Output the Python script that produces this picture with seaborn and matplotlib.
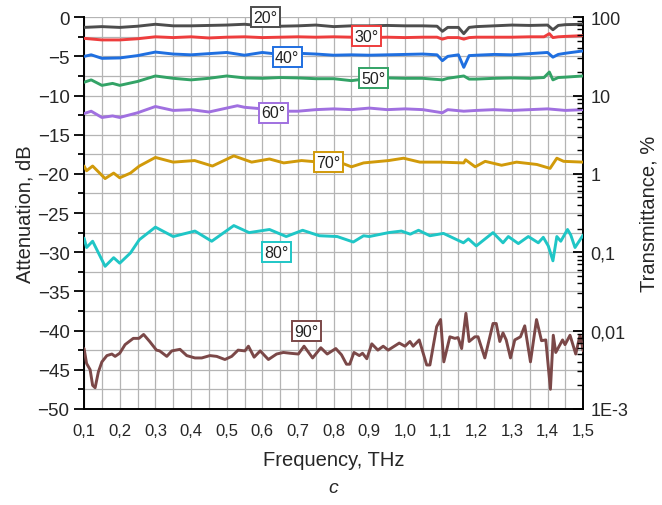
import pandas as pd
import numpy as np
import matplotlib
matplotlib.use('Agg')
import matplotlib.pyplot as plt
import seaborn as sns
from matplotlib.ticker import MultipleLocator, FixedLocator, FixedFormatter, LogLocator, NullFormatter

# frequency (THz) / attenuation (dB), one pair of lists per angle
f20 = [0.10, 0.15, 0.20, 0.25, 0.30, 0.35, 0.40, 0.45, 0.50, 0.55, 0.60, 0.65, 0.70, 0.75, 0.80, 0.85, 0.90, 0.95,
       1.00, 1.05, 1.09, 1.105, 1.12, 1.15, 1.165, 1.18, 1.20, 1.25, 1.30, 1.35, 1.40, 1.415, 1.43, 1.45, 1.50]
a20 = [-1.3, -1.2, -1.3, -1.15, -0.9, -1.1, -1.1, -1.05, -1.0, -0.9, -1.1, -1.15, -1.1, -1.0, -1.2, -1.1, -1.1, -1.05,
       -1.1, -1.1, -1.15, -1.8, -1.3, -1.3, -2.1, -1.3, -1.2, -1.1, -1.0, -1.05, -1.0, -1.6, -1.05, -0.95, -0.9]

f30 = [0.10, 0.15, 0.20, 0.25, 0.30, 0.35, 0.40, 0.45, 0.50, 0.55, 0.60, 0.65, 0.70, 0.75, 0.80, 0.85, 0.90, 0.95,
       1.00, 1.05, 1.09, 1.105, 1.12, 1.15, 1.165, 1.18, 1.20, 1.25, 1.30, 1.35, 1.39, 1.405, 1.415, 1.43, 1.45, 1.50]
a30 = [-2.7, -2.9, -2.9, -2.75, -2.5, -2.6, -2.5, -2.65, -2.55, -2.5, -2.6, -2.55, -2.5, -2.55, -2.5, -2.55, -2.6, -2.55,
       -2.6, -2.55, -2.55, -2.8, -2.6, -2.6, -2.8, -2.6, -2.55, -2.55, -2.55, -2.5, -2.5, -2.1, -2.6, -2.5, -2.45, -2.35]

f40 = [0.10, 0.12, 0.15, 0.20, 0.25, 0.30, 0.35, 0.40, 0.45, 0.50, 0.55, 0.60, 0.65, 0.70, 0.75, 0.80, 0.85, 0.90,
       0.95, 1.00, 1.05, 1.09, 1.105, 1.12, 1.15, 1.165, 1.18, 1.20, 1.25, 1.30, 1.35, 1.40, 1.415, 1.43, 1.45, 1.50]
a40 = [-5.0, -4.8, -5.25, -5.2, -4.9, -4.45, -4.7, -4.8, -4.65, -4.5, -4.85, -4.5, -4.75, -4.6, -4.7, -4.85, -4.8, -4.85,
       -4.8, -4.75, -4.7, -4.8, -5.55, -5.0, -4.8, -6.4, -4.9, -4.85, -4.75, -4.8, -4.65, -4.5, -5.1, -4.75, -4.6, -4.3]

f50 = [0.10, 0.12, 0.15, 0.18, 0.20, 0.25, 0.30, 0.35, 0.40, 0.45, 0.50, 0.55, 0.60, 0.65, 0.70, 0.75, 0.80, 0.85,
       0.90, 0.95, 1.00, 1.05, 1.105, 1.12, 1.165, 1.18, 1.20, 1.25, 1.30, 1.35, 1.39, 1.405, 1.415, 1.43, 1.45, 1.50]
a50 = [-8.3, -8.0, -8.7, -8.45, -8.7, -8.2, -7.5, -7.8, -8.0, -7.8, -7.5, -7.75, -7.8, -7.7, -7.75, -7.85, -7.85, -8.1,
       -7.8, -7.75, -7.8, -7.8, -8.0, -7.8, -7.5, -7.9, -7.9, -7.8, -7.75, -7.8, -7.7, -7.0, -8.0, -7.7, -7.65, -7.5]

f60 = [0.10, 0.12, 0.15, 0.18, 0.20, 0.25, 0.30, 0.35, 0.40, 0.45, 0.50, 0.53, 0.55, 0.60, 0.65, 0.70, 0.75, 0.80,
       0.85, 0.90, 0.95, 1.00, 1.05, 1.105, 1.12, 1.165, 1.20, 1.25, 1.30, 1.35, 1.40, 1.45, 1.50]
a60 = [-12.3, -12.0, -12.8, -12.6, -12.8, -12.2, -11.4, -11.9, -11.8, -12.1, -11.6, -11.3, -11.5, -11.7, -12.0, -12.0,
       -11.8, -11.7, -11.8, -11.6, -11.8, -11.7, -11.8, -12.2, -11.8, -12.0, -11.9, -11.8, -11.9, -11.8, -11.7, -11.9, -11.8]

f70 = [0.10, 0.107, 0.124, 0.159, 0.183, 0.20, 0.23, 0.255, 0.30, 0.35, 0.41, 0.46, 0.52, 0.57, 0.62, 0.66, 0.71, 0.76,
       0.81, 0.85, 0.884, 0.954, 0.996, 1.042, 1.099, 1.165, 1.17, 1.197, 1.225, 1.271, 1.313, 1.37, 1.407, 1.426, 1.445, 1.50]
a70 = [-19.0, -19.6, -19.0, -20.6, -19.9, -20.5, -19.9, -19.0, -17.9, -18.5, -18.3, -19.0, -17.7, -18.5, -18.1, -18.6,
       -18.3, -18.5, -18.4, -19.1, -18.6, -18.3, -18.0, -18.5, -18.5, -18.6, -18.2, -19.1, -18.4, -18.9, -18.5, -18.8,
       -19.3, -18.0, -18.4, -18.5]

f80 = [0.10, 0.107, 0.124, 0.159, 0.183, 0.20, 0.23, 0.255, 0.30, 0.35, 0.411, 0.458, 0.52, 0.563, 0.62, 0.667, 0.713,
       0.76, 0.81, 0.855, 0.884, 0.90, 0.954, 0.99, 1.015, 1.038, 1.07, 1.108, 1.164, 1.178, 1.20, 1.247, 1.275, 1.29,
       1.318, 1.346, 1.374, 1.388, 1.402, 1.415, 1.426, 1.437, 1.456, 1.465, 1.477, 1.50]
a80 = [-28.2, -29.4, -28.6, -31.8, -30.7, -31.4, -30.1, -28.4, -26.8, -28.0, -27.3, -28.6, -26.6, -27.5, -27.1, -28.0,
       -27.2, -27.9, -28.0, -28.7, -27.9, -28.0, -27.5, -27.3, -27.7, -27.2, -27.9, -27.6, -28.8, -28.3, -29.2, -27.5,
       -28.8, -28.0, -28.9, -28.0, -28.8, -28.1, -29.2, -31.1, -28.0, -28.6, -27.1, -27.8, -29.4, -27.8]

f90 = [0.100, 0.107, 0.117, 0.124, 0.131, 0.140, 0.150, 0.164, 0.178, 0.187, 0.200, 0.215, 0.238, 0.254, 0.267, 0.284,
       0.303, 0.312, 0.332, 0.346, 0.369, 0.388, 0.411, 0.430, 0.453, 0.472, 0.495, 0.514, 0.532, 0.551, 0.561, 0.577,
       0.594, 0.617, 0.640, 0.659, 0.678, 0.701, 0.717, 0.741, 0.764, 0.782, 0.806, 0.822, 0.836, 0.845, 0.857, 0.872,
       0.881, 0.893, 0.907, 0.924, 0.939, 0.953, 0.984, 1.000, 1.014, 1.023, 1.040, 1.061, 1.070, 1.089, 1.100, 1.109,
       1.126, 1.140, 1.149, 1.159, 1.171, 1.180, 1.196, 1.205, 1.224, 1.247, 1.256, 1.266, 1.275, 1.284, 1.296, 1.308,
       1.324, 1.336, 1.352, 1.369, 1.383, 1.395, 1.408, 1.416, 1.423, 1.442, 1.449, 1.463, 1.479, 1.491, 1.500]
a90 = [-42.3, -44.2, -45.0, -47.0, -47.3, -45.3, -44.0, -43.2, -43.0, -43.3, -42.9, -41.8, -41.0, -41.0, -40.5, -41.4,
       -42.5, -42.6, -43.3, -42.6, -42.4, -43.2, -43.5, -43.5, -43.2, -43.3, -43.7, -43.3, -42.5, -42.6, -42.0, -43.4,
       -42.6, -43.7, -43.0, -42.8, -42.9, -43.0, -42.0, -43.5, -42.2, -43.0, -42.3, -43.1, -44.3, -44.3, -42.8, -43.2,
       -42.9, -43.6, -41.7, -42.5, -42.0, -42.5, -41.6, -42.0, -41.4, -42.0, -41.2, -44.4, -44.4, -39.5, -38.6, -44.0,
       -40.8, -41.0, -40.9, -42.3, -37.8, -41.4, -40.8, -40.8, -43.5, -39.1, -39.1, -41.4, -40.3, -41.2, -43.5, -41.2,
       -40.8, -39.4, -44.0, -38.6, -41.3, -41.2, -47.5, -40.6, -42.8, -41.2, -41.8, -40.6, -43.0, -40.6, -42.6]

angles = ['20°', '30°', '40°', '50°', '60°', '70°', '80°', '90°']
freqs = [f20, f30, f40, f50, f60, f70, f80, f90]
atts = [a20, a30, a40, a50, a60, a70, a80, a90]
colors = ['#4d4d4d', '#ee3d3d', '#1f6fe0', '#33a366', '#a070e0', '#d19a0a', '#1fc6c6', '#7b4848']

# label box positions (THz, dB)
lab_x = [0.608, 0.891, 0.67, 0.911, 0.631, 0.785, 0.639, 0.723]
lab_y = [0.0, -2.4, -5.1, -7.8, -12.2, -18.5, -30.0, -40.1]

df = pd.concat([pd.DataFrame({'freq': f, 'att': a, 'angle': ang})
                for f, a, ang in zip(freqs, atts, angles)], ignore_index=True)

sns.set_style('white')
plt.rcParams['font.family'] = ['Liberation Sans', 'DejaVu Sans']

fig = plt.figure(figsize=(6.62, 5.06), dpi=100)
ax = fig.add_axes([0.127, 0.190, 0.754, 0.774])

sns.lineplot(data=df, x='freq', y='att', hue='angle', palette=colors, estimator=None,
             sort=True, legend=False, linewidth=2.1, ax=ax, zorder=3)

ax.set_xlim(0.1, 1.5)
ax.set_ylim(-50, 0)
ax.xaxis.set_major_locator(MultipleLocator(0.1))
ax.xaxis.set_minor_locator(MultipleLocator(0.05))
ax.yaxis.set_major_locator(MultipleLocator(5))
ax.yaxis.set_minor_locator(MultipleLocator(2.5))
xt = np.round(np.arange(0.1, 1.51, 0.1), 1)
ax.set_xticks(xt)
ax.set_xticklabels([f'{v:.1f}'.replace('.', ',') for v in xt])
ax.grid(which='both', color='#b4b4b4', linewidth=0.9, zorder=0)
ax.set_axisbelow(True)
ax.tick_params(which='major', direction='out', length=7, width=1.3, labelsize=12, color='black')
ax.tick_params(which='minor', direction='out', length=4, width=1.3, color='black')
ax.tick_params(axis='y', labelsize=13.5)
ax.set_xlabel('Frequency, THz', fontsize=14.5, labelpad=8)
ax.set_ylabel('Attenuation, dB', fontsize=14.5, labelpad=2)
for side in ['left', 'bottom', 'right']:
    ax.spines[side].set_color('black')
    ax.spines[side].set_linewidth(1.4)
ax.spines['top'].set_visible(False)

for x, y, t, c in zip(lab_x, lab_y, angles, colors):
    ax.text(x, y, t, ha='center', va='center', fontsize=11.5, color='#222222', zorder=5,
            bbox=dict(boxstyle='square,pad=0.15', fc='white', ec=c, lw=1.4))

ax2 = ax.twinx()
ax2.set_yscale('log')
ax2.set_ylim(1e-3, 100)
ax2.yaxis.set_major_locator(FixedLocator([1e-3, 1e-2, 1e-1, 1, 10, 100]))
ax2.yaxis.set_major_formatter(FixedFormatter(['1E-3', '0,01', '0,1', '1', '10', '100']))
ax2.yaxis.set_minor_locator(LogLocator(base=10, subs=np.arange(2, 10)))
ax2.yaxis.set_minor_formatter(NullFormatter())
ax2.tick_params(which='major', direction='in', length=7, width=1.3, labelsize=13, color='black', pad=5)
ax2.tick_params(which='minor', direction='in', length=4, width=1.0, color='black')
ax2.set_ylabel('Transmittance, %', fontsize=14.5, labelpad=8)
for s in ax2.spines.values():
    s.set_visible(False)
ax2.grid(False)

fig.text(0.503, 0.035, 'c', fontsize=14, style='italic', ha='center', va='center')

fig.savefig('out.png', dpi=100)
